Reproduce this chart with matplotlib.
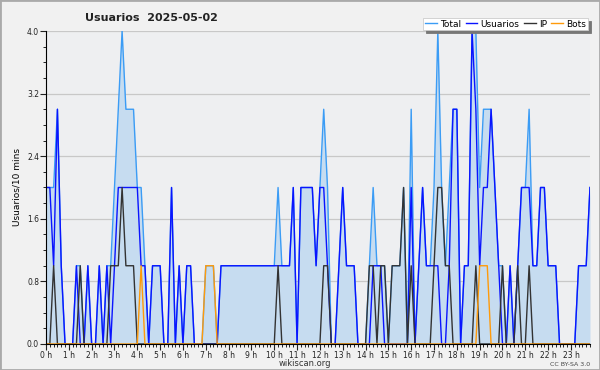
import numpy as np
import matplotlib
matplotlib.use('Agg')
import matplotlib.pyplot as plt
from matplotlib.patches import Rectangle

# one value per 10 minutes, 144 slots (0 h .. 23 h 50)
usuarios = [2,2,1,3,1,0,0,0,1,0,
            0,1,0,0,1,0,1,0,1,2,
            2,2,2,2,2,1,1,0,1,1,
            1,0,0,2,0,1,0,1,1,0,
            0,0,0,0,0,0,1,1,1,1,
            1,1,1,1,1,1,1,1,1,1,
            1,1,1,1,1,2,0,2,2,2,
            2,1,2,2,1,0,0,1,2,1,
            1,1,0,0,0,0,1,1,1,0,
            0,0,0,0,0,0,2,0,1,2,
            1,1,1,1,0,0,1,3,3,0,
            1,1,4,3,1,2,2,3,2,1,
            0,0,1,0,1,2,2,2,1,1,
            2,2,1,1,1,0,0,0,0,0,
            1,1,1,2]
ip = [0,0,1,0,0,0,0,0,0,1,
      0,0,0,0,0,0,0,1,1,1,
      2,1,1,1,0,0,0,0,0,0,
      0,0,0,0,0,0,0,0,0,0,
      0,0,0,0,0,0,0,0,0,0,
      0,0,0,0,0,0,0,0,0,0,
      0,1,0,0,0,0,0,0,0,0,
      0,0,0,1,1,0,0,0,0,0,
      0,0,0,0,0,1,1,0,1,1,
      0,1,1,1,2,0,1,0,0,0,
      0,0,1,2,2,1,1,0,0,0,
      0,0,0,1,0,0,0,0,0,0,
      1,0,0,0,1,0,0,1,0,0,
      0,0,0,0,0,0,0,0,0,0,
      0,0,0,0]
bots = [0,0,0,0,0,0,0,0,0,0,
        0,0,0,0,0,0,0,0,0,0,
        0,0,0,0,0,1,0,0,0,0,
        0,0,0,0,0,0,0,0,0,0,
        0,0,1,1,1,0,0,0,0,0,
        0,0,0,0,0,0,0,0,0,0,
        0,0,0,0,0,0,0,0,0,0,
        0,0,0,0,0,0,0,0,0,0,
        0,0,0,0,0,0,0,0,0,0,
        0,0,0,0,0,0,0,0,0,0,
        0,0,0,0,0,0,0,0,0,0,
        0,0,0,0,1,1,1,0,0,0,
        0,0,0,0,0,0,0,0,0,0,
        0,0,0,0,0,0,0,0,0,0,
        0,0,0,0]
total = [2,2,2,3,1,0,0,0,1,1,
         0,1,0,0,1,0,1,1,2,3,
         4,3,3,3,2,2,1,0,1,1,
         1,0,0,2,0,1,0,1,1,0,
         0,0,1,1,1,0,1,1,1,1,
         1,1,1,1,1,1,1,1,1,1,
         1,2,1,1,1,2,0,2,2,2,
         2,1,2,3,2,0,0,1,2,1,
         1,1,0,0,0,1,2,1,1,1,
         0,1,1,1,2,0,3,0,1,2,
         1,1,2,4,2,1,2,3,3,0,
         1,1,4,4,2,3,3,3,2,1,
         1,0,1,0,1,2,2,3,1,1,
         2,2,1,1,1,0,0,0,0,0,
         1,1,1,2]
hour_labels = [str(h) + ' h' for h in range(24)]

x = np.arange(len(total)) / 6.0

fig = plt.figure(figsize=(6, 3.7), dpi=100, facecolor='#f1f1f1')
ax = fig.add_axes([0.0767, 0.0703, 0.9066, 0.8459])
ax.set_facecolor('#eeeff1')

ax.fill_between(x, 0, total, color='#c6dcf0', lw=0)
ax.plot(x, total, color='#3b9cf5', lw=1.0, label='Total')
ax.plot(x, usuarios, color='#0a14ff', lw=1.0, label='Usuarios')
ax.plot(x, ip, color='#333333', lw=1.0, label='IP')
ax.plot(x, bots, color='#ff9a0a', lw=1.0, label='Bots')

ax.set_xlim(0, x[-1])
ax.set_ylim(0, 4.0)
ax.set_yticks(np.arange(0, 4.01, 0.8))
ax.set_yticklabels(['%.1f' % v for v in np.arange(0, 4.01, 0.8)])
ax.set_yticks(np.arange(0, 4.01, 0.2), minor=True)
ax.set_xticks(range(24))
ax.set_xticklabels(hour_labels)
ax.set_xticks(np.arange(0, x[-1] + 0.01, 1 / 6.0), minor=True)
ax.tick_params(axis='both', which='major', labelsize=5.5, length=4, width=0.8, pad=1, colors='#222222')
ax.tick_params(axis='both', which='minor', length=2.5, width=0.6)
ax.grid(True, axis='y', color='#c8c8c8', lw=0.9)
ax.set_axisbelow(True)
for s in ['top', 'right']:
    ax.spines[s].set_visible(False)
ax.spines['left'].set_color('black')
ax.spines['bottom'].set_color('black')

ax.set_ylabel('Usuarios/10 mins', fontsize=6.5, labelpad=4)
fig.text(0.142, 0.952, 'Usuarios  2025-05-02', fontsize=8, fontweight='bold', va='center', ha='left', color='#222222')
fig.text(0.508, 0.018, 'wikiscan.org', fontsize=6, ha='center', va='center', color='#333333')
fig.text(0.983, 0.016, 'CC BY-SA 3.0', fontsize=4.5, ha='right', va='center', color='#444444')

leg = fig.legend(loc='upper right', bbox_to_anchor=(0.980, 0.952), ncol=4, fontsize=6.5,
                 frameon=True, fancybox=False, shadow={'color': '#777777', 'alpha': 1},
                 handlelength=1.3, handletextpad=0.35, columnspacing=0.5, borderpad=0.2,
                 borderaxespad=0)
leg.get_frame().set_facecolor('white')
leg.get_frame().set_edgecolor('#cccccc')
leg.get_frame().set_linewidth(0.6)

fig.patches.append(Rectangle((0, 0), 1, 1, transform=fig.transFigure, fill=False, ec='#aaaaaa', lw=2))

fig.savefig('out.png', dpi=100, facecolor=fig.get_facecolor())
